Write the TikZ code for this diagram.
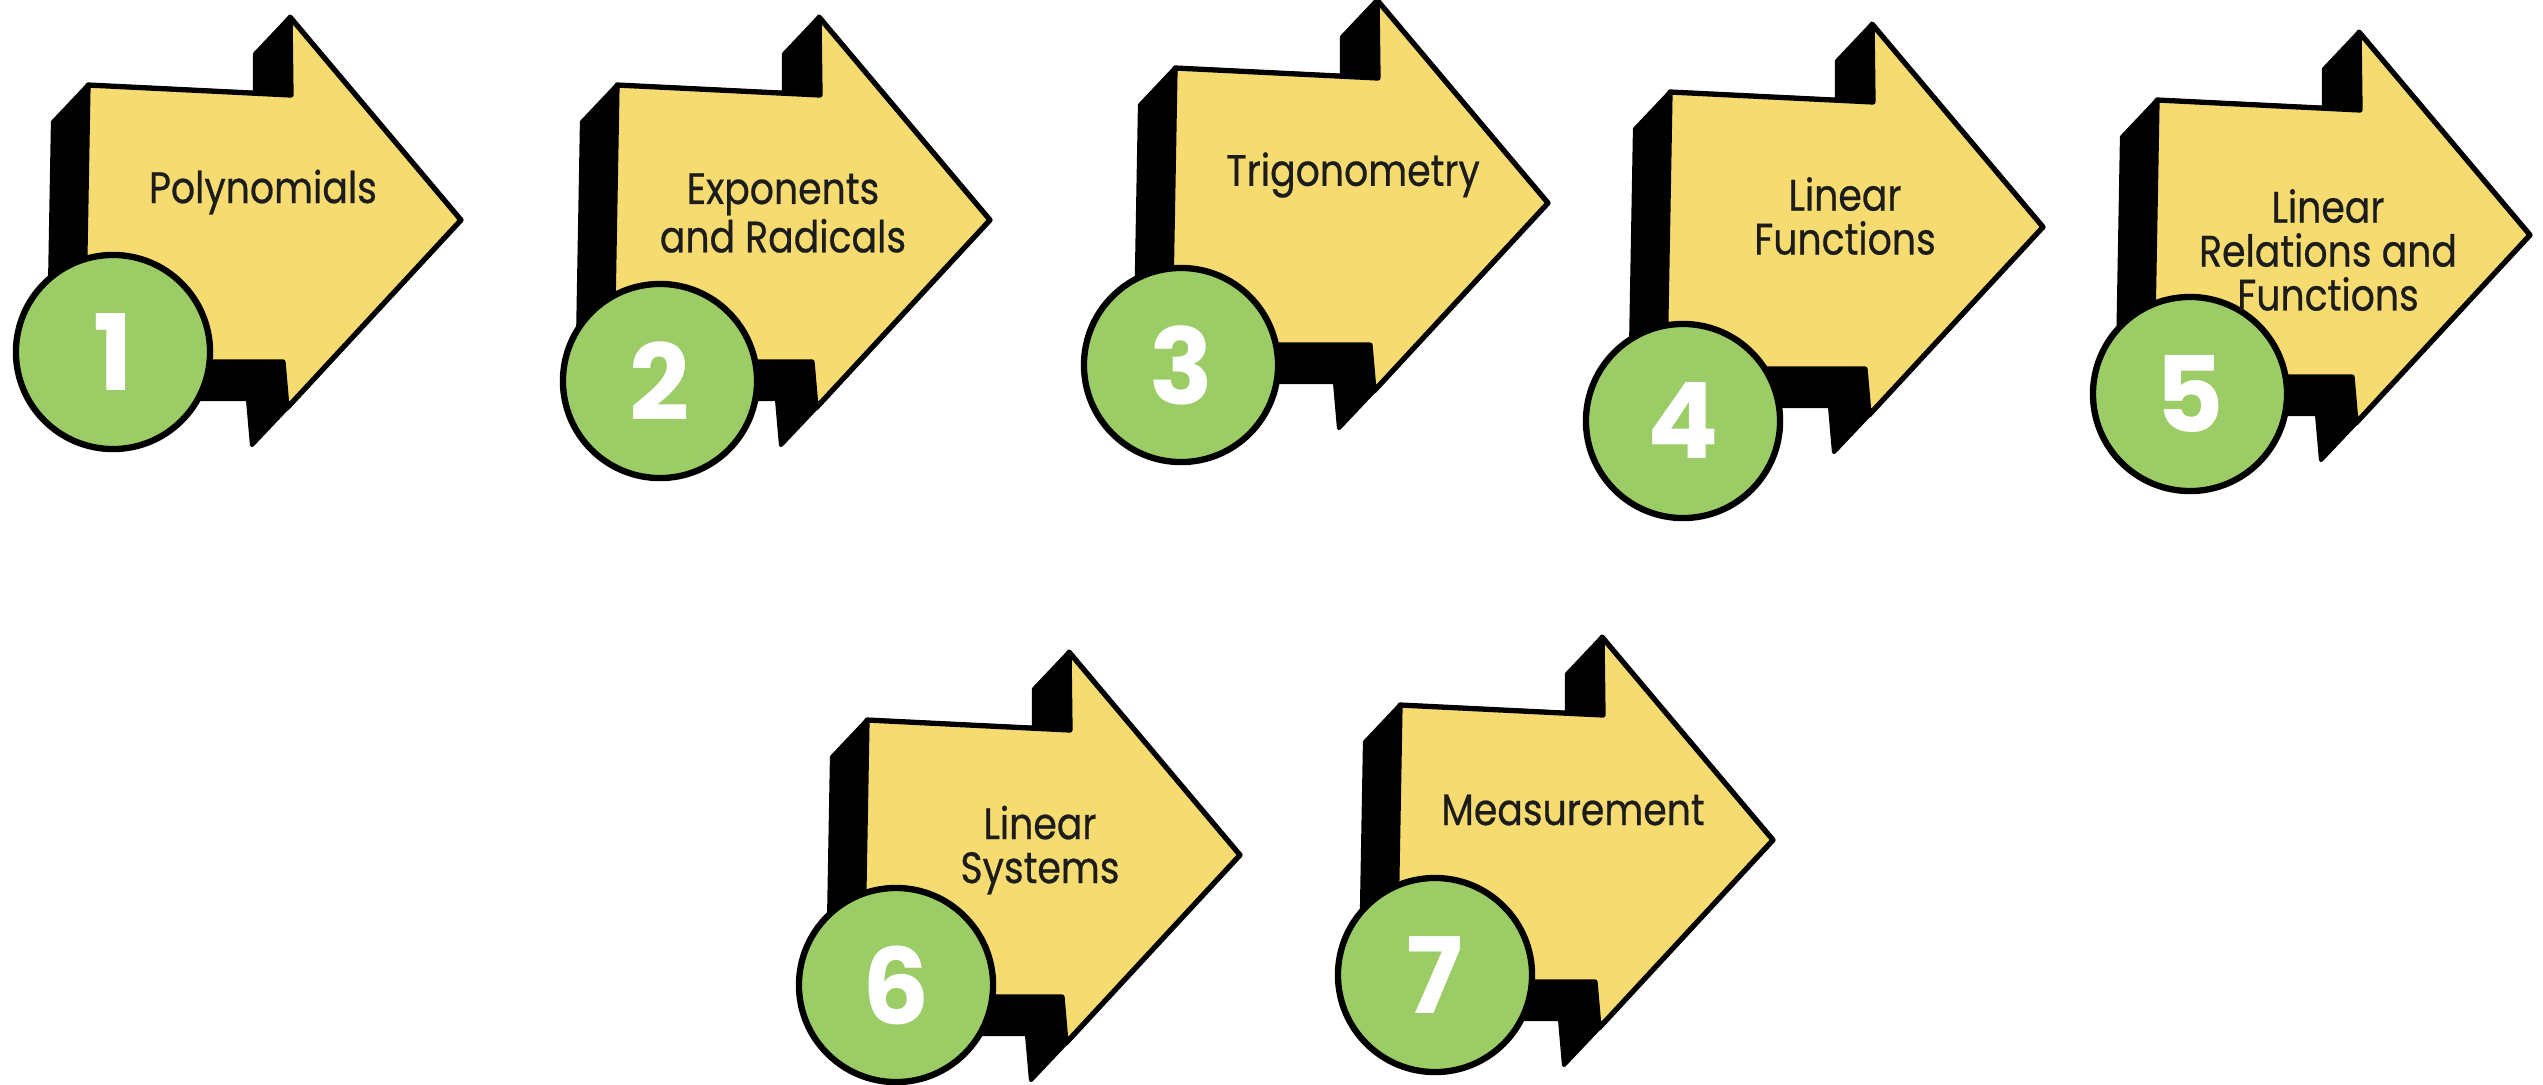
\documentclass[tikz,border=0pt]{standalone}
\usepackage{fontspec}
\setmainfont{Poppins}
\newfontfamily\topicfont[FakeStretch=0.86, FakeBold=0.6]{Poppins}
\usepackage{tikz}
\usetikzlibrary{positioning}
\definecolor{tpyellow}{HTML}{F6DC70}
\definecolor{tpgreen}{HTML}{9BCC66}
\definecolor{tpink}{HTML}{1C1C1C}
\tikzset{
  shade3d/.style={fill=black, draw=black, line width=1.2pt, line join=round},
  face/.style={fill=tpyellow, draw=black, line width=1.5pt, line join=round},
  badge/.style={circle, fill=tpgreen, draw=black, line width=1.8pt, minimum size=1.94cm, inner sep=0pt,
    text=white, font=\fontsize{30}{30}\selectfont\bfseries},
  topic/.style={align=center, text=tpink, font=\topicfont\fontsize{12.5}{12.5}\selectfont, inner sep=1pt},
}
% #1 id, #2 top-left corner of the face, #3 badge centre, #4 label centre, #5 number, #6 label
\newcommand{\topicarrow}[6]{%
  \begin{scope}[shift={#2}]
    \fill[shade3d] (-35,37) -- (0,0) -- (167,8) -- (167,-31) -- (202,-68) -- (373,135)
      -- (199,323) -- (164,360) -- (160,314) -- (-40,314) -- cycle;
    \draw[face] (0,0) -- (203,10) -- (202,-68) -- (373,135) -- (199,323) -- (195,277) -- (-5,277) -- cycle;
  \end{scope}
  \node[badge] (b#1) at #3 {#5};
  \node[topic] (t#1) at #4 {#6};
}

\begin{document}
\begin{tikzpicture}[x=0.01cm, y=-0.01cm]
    \useasboundingbox (0,0) rectangle (2543,1084);
    \topicarrow{1}{(88,85)}{(113,352)}{(263,192)}{1}{Polynomials}
    \topicarrow{2}{(617,85)}{(660,381)}{(783,213)}{2}{Exponents\\and Radicals}
    \topicarrow{3}{(1175,68)}{(1181,365)}{(1353,175)}{3}{Trigonometry}
    \topicarrow{4}{(1670,92)}{(1683,421)}{(1845,216)}{4}{Linear\\Functions}
    \topicarrow{5}{(2157,100)}{(2190,394)}{(2328,250)}{5}{Linear\\Relations and\\Functions}
    \topicarrow{6}{(867,720)}{(896,985)}{(1040,850)}{6}{Linear\\Systems}
    \topicarrow{7}{(1400,705)}{(1435,975)}{(1573,810)}{7}{Measurement}
  \end{tikzpicture}
\end{document}
